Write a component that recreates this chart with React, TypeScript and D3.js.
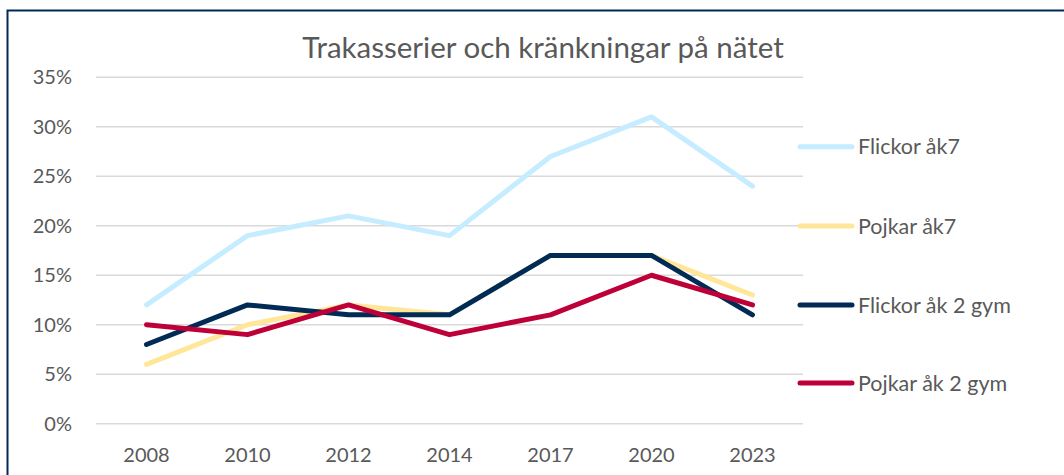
import React from "react";
import * as d3 from "d3";

const years = ["2008", "2010", "2012", "2014", "2017", "2020", "2023"];
const flickorAk7 = [12, 19, 21, 19, 27, 31, 24];
const pojkarAk7 = [6, 10, 12, 11, 17, 17, 13];
const flickorGym = [8, 12, 11, 11, 17, 17, 11];
const pojkarGym = [10, 9, 12, 9, 11, 15, 12];
const yTicks = [0, 5, 10, 15, 20, 25, 30, 35];
const seriesNames = ["Flickor åk7", "Pojkar åk7", "Flickor åk 2 gym", "Pojkar åk 2 gym"];
const seriesColors = ["#C5ECFF", "#FFE699", "#002B55", "#BE0039"];
const title = "Trakasserier och kränkningar på nätet";

const W = 1064;
const H = 475;
const FONT = "Lato, 'Open Sans', sans-serif";

export default function App() {
  const x = d3.scaleBand<string>().domain(years).range([96, 803]);
  const y = d3.scaleLinear().domain([0, 35]).range([423.7, 77.3]);
  const allSeries = [flickorAk7, pojkarAk7, flickorGym, pojkarGym];
  const line = d3
    .line<number>()
    .x((_, i) => (x(years[i]) as number) + x.bandwidth() / 2)
    .y((d) => y(d));
  const legendY = [146.7, 226, 305, 383];

  return (
    <svg
      width={W}
      height={H}
      style={{ position: "absolute", left: 0, top: 0, background: "#fff" }}
    >
      <rect x={0} y={0} width={W} height={H} fill="#fff" />
      <rect x={7.5} y={10.5} width={W + 20} height={H + 20} fill="#fff" stroke="#002B55" strokeWidth={2} />
      <text x={543} y={58} textAnchor="middle" fontFamily={FONT} fontSize={29.5} fill="#595959">
        {title}
      </text>
      {yTicks.map((t) => (
        <g key={t}>
          <line x1={96} x2={803} y1={y(t)} y2={y(t)} stroke="#D9D9D9" strokeWidth={1.5} />
          <text x={72} y={y(t) + 7} textAnchor="end" fontFamily={FONT} fontSize={20} fill="#595959">
            {t + "%"}
          </text>
        </g>
      ))}
      {years.map((yr) => (
        <text
          key={yr}
          x={(x(yr) as number) + x.bandwidth() / 2}
          y={462}
          textAnchor="middle"
          fontFamily={FONT}
          fontSize={20}
          fill="#595959"
        >
          {yr}
        </text>
      ))}
      {allSeries.map((s, i) => (
        <path
          key={i}
          d={line(s) as string}
          fill="none"
          stroke={seriesColors[i]}
          strokeWidth={5}
          strokeLinecap="round"
          strokeLinejoin="round"
        />
      ))}
      {seriesNames.map((n, i) => (
        <g key={n}>
          <line x1={800} x2={852} y1={legendY[i]} y2={legendY[i]} stroke={seriesColors[i]} strokeWidth={5} strokeLinecap="round" />
          <text x={858} y={legendY[i] + 7.5} fontFamily={FONT} fontSize={21.5} fill="#595959">
            {n}
          </text>
        </g>
      ))}
    </svg>
  );
}
